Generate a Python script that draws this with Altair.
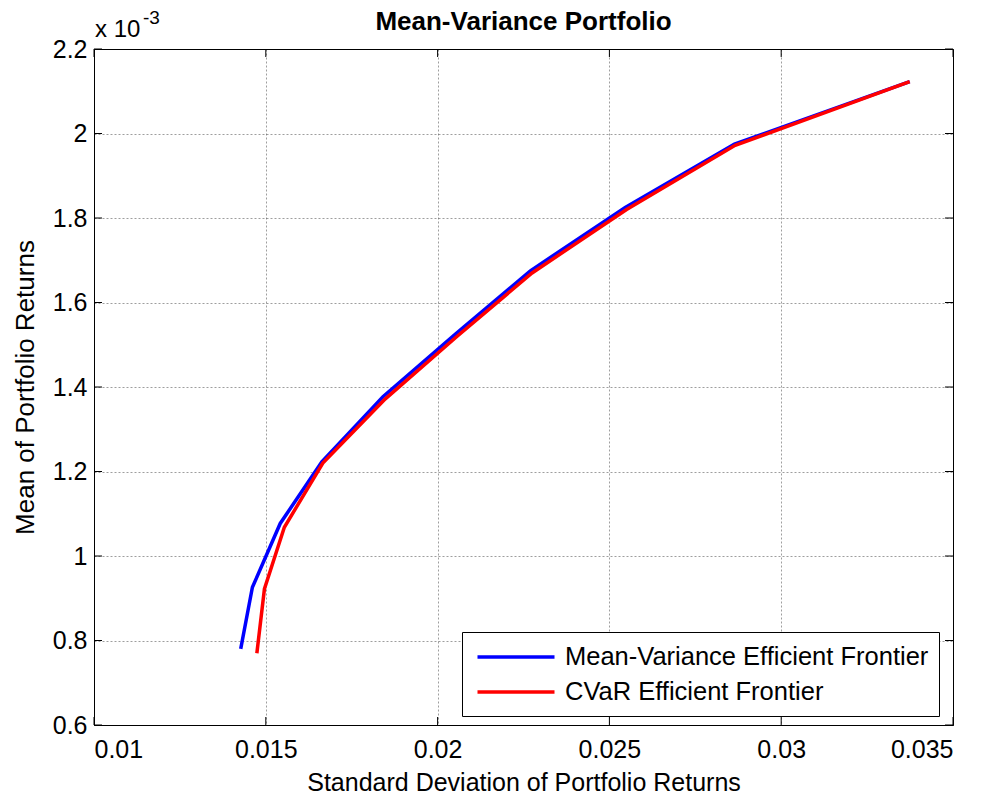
import altair as alt
import pandas as pd

# Efficient frontiers: standard deviation of returns vs. mean return (mean in units of 1e-3)
mv_std = [0.01427, 0.01461, 0.01542, 0.01663, 0.01841, 0.02052, 0.02270, 0.02546, 0.02864, 0.03374]
mv_mean = [0.780, 0.926, 1.077, 1.223, 1.377, 1.525, 1.675, 1.825, 1.975, 2.123]
cvar_std = [0.01474, 0.01496, 0.01554, 0.01666, 0.01848, 0.02057, 0.02275, 0.02550, 0.02866, 0.03374]
cvar_mean = [0.770, 0.922, 1.068, 1.220, 1.372, 1.520, 1.670, 1.820, 1.972, 2.123]

series_names = ["Mean-Variance Efficient Frontier", "CVaR Efficient Frontier"]
series_colors = ["#0000ff", "#ff0000"]

x_ticks = [0.01, 0.015, 0.02, 0.025, 0.03, 0.035]
y_ticks = [0.6, 0.8, 1.0, 1.2, 1.4, 1.6, 1.8, 2.0, 2.2]
exponent_text = ["x 10", "-3"]
chart_title = ["Mean-Variance Portfolio"]

W, H = 859, 676
FONT = "Liberation Sans"

mv_df = pd.DataFrame({"std": mv_std, "mean": mv_mean, "series": series_names[0]})
cvar_df = pd.DataFrame({"std": cvar_std, "mean": cvar_mean, "series": series_names[1]})

x_scale = alt.Scale(domain=[x_ticks[0], x_ticks[-1]], nice=False, zero=False)
y_scale = alt.Scale(domain=[y_ticks[0], y_ticks[-1]], nice=False, zero=False)

axis_style = dict(
    domainColor="black",
    domainWidth=1,
    ticks=False,
    grid=True,
    gridColor="#000000",
    gridOpacity=0.38,
    gridDash=[2, 2],
    gridWidth=1,
    labelFont=FONT,
    labelFontSize=25,
    labelColor="black",
    titleFont=FONT,
    titleFontWeight="normal",
    titleColor="black",
)
x_axis = alt.Axis(values=x_ticks, format=".3~f", labelPadding=12, titlePadding=8,
                  titleFontSize=25, **axis_style)
y_axis = alt.Axis(values=y_ticks, format=".1~f", labelPadding=7, titlePadding=14,
                  titleFontSize=26, **axis_style)
X_TITLE = "Standard Deviation of Portfolio Returns"
Y_TITLE = "Mean of Portfolio Returns"


def x_enc(field):
    return alt.X(f"{field}:Q", scale=x_scale, title=X_TITLE, axis=x_axis)


def y_enc(field):
    return alt.Y(f"{field}:Q", scale=y_scale, title=Y_TITLE, axis=y_axis)


color = alt.Color(
    "series:N",
    scale=alt.Scale(domain=series_names, range=series_colors),
    legend=alt.Legend(
        title=None,
        orient="none",
        legendX=368,
        legendY=583,
        strokeColor="black",
        fillColor="white",
        padding=10,
        symbolType="M-3,0H3",
        symbolSize=659,
        symbolStrokeWidth=3.5,
        symbolOffset=29,
        labelOffset=34,
        rowPadding=6,
        labelFont=FONT,
        labelFontSize=25.5,
        labelColor="black",
        labelLimit=700,
    ),
)

mv_line = alt.Chart(mv_df).mark_line(strokeWidth=3.5).encode(
    x=x_enc("std"), y=y_enc("mean"), color=color)
cvar_line = alt.Chart(cvar_df).mark_line(strokeWidth=3.5).encode(
    x=x_enc("std"), y=y_enc("mean"), color=color)

# Inward tick marks on all four sides of the box
xt = pd.DataFrame({"std": x_ticks})
yt = pd.DataFrame({"mean": y_ticks})
tick_len = 8
ticks_bottom = alt.Chart(xt).mark_rule(color="black", strokeWidth=1).encode(
    x=x_enc("std"), y=alt.value(H), y2=alt.value(H - tick_len))
ticks_top = alt.Chart(xt).mark_rule(color="black", strokeWidth=1).encode(
    x=x_enc("std"), y=alt.value(0), y2=alt.value(tick_len))
ticks_left = alt.Chart(yt).mark_rule(color="black", strokeWidth=1).encode(
    y=y_enc("mean"), x=alt.value(0), x2=alt.value(tick_len))
ticks_right = alt.Chart(yt).mark_rule(color="black", strokeWidth=1).encode(
    y=y_enc("mean"), x=alt.value(W - tick_len), x2=alt.value(W))

# Exponent multiplier above the y axis
exp_base = alt.Chart(pd.DataFrame({"t": [exponent_text[0]]})).mark_text(
    font=FONT, fontSize=24, align="left", baseline="alphabetic", color="black"
).encode(text="t:N", x=alt.value(1), y=alt.value(-12))
exp_power = alt.Chart(pd.DataFrame({"t": [exponent_text[1]]})).mark_text(
    font=FONT, fontSize=19, align="left", baseline="alphabetic", color="black"
).encode(text="t:N", x=alt.value(49), y=alt.value(-25))

# Chart heading, centred over the plot box
heading = alt.Chart(pd.DataFrame({"t": chart_title})).mark_text(
    font=FONT, fontSize=26, fontWeight="bold", align="center", baseline="alphabetic", color="black"
).encode(text="t:N", x=alt.value(W / 2), y=alt.value(-19))

chart = (
    alt.layer(mv_line, cvar_line, ticks_bottom, ticks_top, ticks_left, ticks_right,
              exp_base, exp_power, heading)
    .properties(
        width=W,
        height=H,
        background="white",
        autosize=alt.AutoSizeParams(type="none"),
        padding={"left": 94, "top": 49, "right": 36, "bottom": 71},
    )
    .configure_view(stroke="black", strokeWidth=1)
)

chart.save("out.html", embed_options={"renderer": "svg", "actions": False})
